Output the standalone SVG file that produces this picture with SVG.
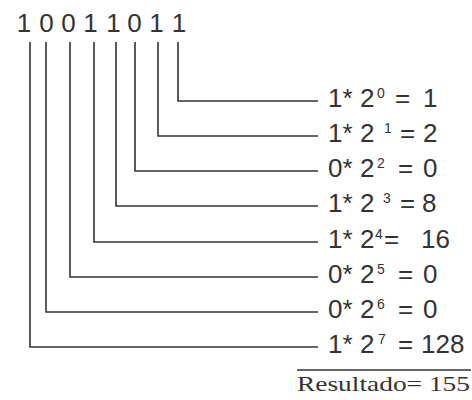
<svg xmlns="http://www.w3.org/2000/svg" width="472" height="400" viewBox="0 0 472 400">
<style>
.bit{font-family:"Liberation Sans",Arial,sans-serif;font-size:26px;fill:#333;text-anchor:middle}
.lbl{font-family:"Liberation Sans",Arial,sans-serif;font-size:26px;fill:#333}
.sup{font-size:14px}
.res{font-family:"Liberation Serif","Times New Roman",serif;font-size:22px;fill:#333}
.c{fill:none;stroke:#333;stroke-width:1.6}
</style>
<rect width="472" height="400" fill="#fff"/>
<g id="bits">
<text class="bit" x="24" y="32">1</text>
<text class="bit" x="46.5" y="32">0</text>
<text class="bit" x="68.5" y="32">0</text>
<text class="bit" x="90.5" y="32">1</text>
<text class="bit" x="113.5" y="32">1</text>
<text class="bit" x="134.5" y="32">0</text>
<text class="bit" x="156.5" y="32">1</text>
<text class="bit" x="179" y="32">1</text>
</g>
<g id="connectors">
<path class="c" d="M178,42V101H318"/>
<path class="c" d="M158,42V136H318"/>
<path class="c" d="M135,42V171H318"/>
<path class="c" d="M116,42V206H318"/>
<path class="c" d="M94,42V242H318"/>
<path class="c" d="M70,42V277H318"/>
<path class="c" d="M46,42V312H318"/>
<path class="c" d="M30,42V347H318"/>
<path class="c" d="M297,370H471"/>
</g>
<g id="row0"><text class="lbl" y="107"><tspan x="328">1* </tspan><tspan x="360">2</tspan><tspan class="sup" x="377" dy="-9">0</tspan><tspan x="395" dy="9">= </tspan><tspan x="423">1</tspan></text></g>
<g id="row1"><text class="lbl" y="142"><tspan x="328">1* </tspan><tspan x="360">2</tspan><tspan class="sup" x="384" dy="-9">1</tspan><tspan x="400" dy="9">= </tspan><tspan x="423">2</tspan></text></g>
<g id="row2"><text class="lbl" y="177"><tspan x="328">0* </tspan><tspan x="360">2</tspan><tspan class="sup" x="377" dy="-9">2</tspan><tspan x="398" dy="9">= </tspan><tspan x="423">0</tspan></text></g>
<g id="row3"><text class="lbl" y="212"><tspan x="328">1* </tspan><tspan x="360">2</tspan><tspan class="sup" x="383" dy="-9">3</tspan><tspan x="400" dy="9">= </tspan><tspan x="422">8</tspan></text></g>
<g id="row4"><text class="lbl" y="248"><tspan x="328">1* </tspan><tspan x="360">2</tspan><tspan class="sup" x="375" dy="-9">4</tspan><tspan x="384" dy="9">= </tspan><tspan x="421">16</tspan></text></g>
<g id="row5"><text class="lbl" y="283"><tspan x="328">0* </tspan><tspan x="360">2</tspan><tspan class="sup" x="377" dy="-9">5</tspan><tspan x="398" dy="9">= </tspan><tspan x="423">0</tspan></text></g>
<g id="row6"><text class="lbl" y="318"><tspan x="328">0* </tspan><tspan x="360">2</tspan><tspan class="sup" x="377" dy="-9">6</tspan><tspan x="398" dy="9">= </tspan><tspan x="423">0</tspan></text></g>
<g id="row7"><text class="lbl" y="353"><tspan x="328">1* </tspan><tspan x="360">2</tspan><tspan class="sup" x="378" dy="-9">7</tspan><tspan x="398" dy="9">= </tspan><tspan x="421">128</tspan></text></g>
<g id="result"><text class="res" x="297" y="391" textLength="173" lengthAdjust="spacingAndGlyphs">Resultado= 155</text></g>
</svg>
